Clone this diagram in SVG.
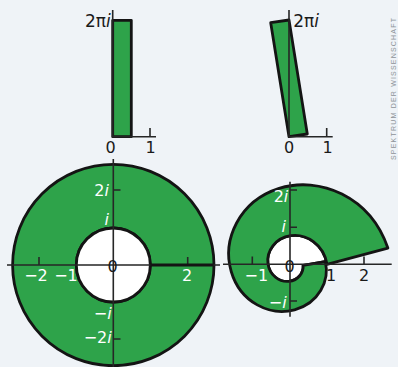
<svg xmlns="http://www.w3.org/2000/svg" width="398" height="367" viewBox="0 0 398 367">
<style>
.bg{fill:#eff3f7}
.shape{fill:#2ea34a;stroke:#141414;stroke-width:2.8;stroke-linejoin:round}
.hole{fill:#ffffff;stroke:#141414;stroke-width:2.8}
.axis{stroke:#262626;stroke-width:1.6;fill:none}
.lbl{font-family:"DejaVu Sans",Verdana,sans-serif;font-size:16px;fill:#1a1a1a}
.w{fill:#ffffff}
.it{font-style:italic}
.big{font-size:17px}
.wm{font-family:"Liberation Sans",Arial,sans-serif;font-size:7px;fill:#8e9399}
</style>
<rect class="bg" x="0" y="0" width="398" height="367"/>

<g id="strip-straight">
  <rect class="shape" x="112.7" y="20.3" width="18.6" height="116.4"/>
  <path class="axis" d="M112.7 10V136.7H156M150 128V136.7"/>
  <text class="lbl big" x="110.7" y="26.5" text-anchor="end">2π<tspan class="it">i</tspan></text>
  <text class="lbl" x="110.7" y="153" text-anchor="middle">0</text>
  <text class="lbl" x="150.7" y="153" text-anchor="middle">1</text>
</g>

<g id="strip-tilted">
  <polygon class="shape" points="289,136.7 307.3,134 289,20 270.7,22.7"/>
  <path class="axis" d="M289 10V136.7H332.7M326.7 128V136.7"/>
  <text class="lbl big" x="293.3" y="26.5">2π<tspan class="it">i</tspan></text>
  <text class="lbl" x="289" y="153" text-anchor="middle">0</text>
  <text class="lbl" x="327.7" y="153" text-anchor="middle">1</text>
</g>

<g id="annulus">
  <path class="shape" fill-rule="evenodd" d="M214 265A100.7 100.7 0 1 0 12.6 265A100.7 100.7 0 1 0 214 265ZM150.3 265A37 37 0 1 0 76.3 265A37 37 0 1 0 150.3 265Z"/>
  <circle class="hole" cx="113.3" cy="265" r="37"/>
  <path class="axis" d="M7 265H220M113.3 159V367M113.3 190H120.5M113.3 339H120.5M39 265V257M187.7 265V257"/>
  <path d="M150.3 265H213.5" stroke="#141414" stroke-width="3" fill="none"/>
  <text class="lbl w" x="109" y="196" text-anchor="end">2<tspan class="it">i</tspan></text>
  <text class="lbl w it" x="109" y="225" text-anchor="end">i</text>
  <text class="lbl w" x="36" y="280.7" text-anchor="middle">−2</text>
  <text class="lbl w" x="66" y="280.7" text-anchor="middle">−1</text>
  <text class="lbl w" x="187.2" y="280.7" text-anchor="middle">2</text>
  <text class="lbl w" x="111.7" y="319.3" text-anchor="end">−<tspan class="it">i</tspan></text>
  <text class="lbl w" x="111.7" y="343.3" text-anchor="end">−2<tspan class="it">i</tspan></text>
  <text class="lbl" x="112.5" y="271.7" text-anchor="middle">0</text>
</g>

<g id="spiral">
  <path class="hole" d="M327 264.3C323.65 244.19 306.2 233.46 290.61 235.72C275.02 237.98 266.45 251.28 267.93 263.36C269.42 275.44 279.55 282.28 288.91 281.33C298.27 280.38 303.72 272.67 303.14 265.42L325.25 261.51Z"/>
  <path class="shape" d="M327 264.3L387.88 248.07C370.2 196.33 319.34 175.62 279.08 188.42C238.82 201.23 221.98 240.18 231.21 271.49C240.44 302.8 270.25 316.45 294.59 309.83C318.92 303.22 329.96 280.41 325.25 261.51L303.14 265.42C303.72 272.67 298.27 280.38 288.91 281.33C279.55 282.28 269.42 275.44 267.93 263.36C266.45 251.28 275.02 237.98 290.61 235.72C306.2 233.46 323.65 244.19 327 264.3Z"/>
  <path class="axis" d="M223 264.3H391.7M290 181.7V316.7M290 190H297M290 227.3H297M290 301H297M252.3 264.3V256.6M364 264.3V256.6"/>
  <text class="lbl w" x="288.3" y="202" text-anchor="end">2<tspan class="it">i</tspan></text>
  <text class="lbl w it" x="286" y="231.7" text-anchor="end">i</text>
  <text class="lbl w" x="286.7" y="308" text-anchor="end">−<tspan class="it">i</tspan></text>
  <text class="lbl w" x="256.3" y="280.5" text-anchor="middle">−1</text>
  <text class="lbl" x="289.5" y="271.7" text-anchor="middle">0</text>
  <text class="lbl" x="331.2" y="280.7" text-anchor="middle">1</text>
  <text class="lbl" x="364.2" y="280.5" text-anchor="middle">2</text>
</g>

<text class="wm" transform="translate(396,160) rotate(-90)" textLength="142" lengthAdjust="spacing">SPEKTRUM DER WISSENSCHAFT</text>
</svg>
